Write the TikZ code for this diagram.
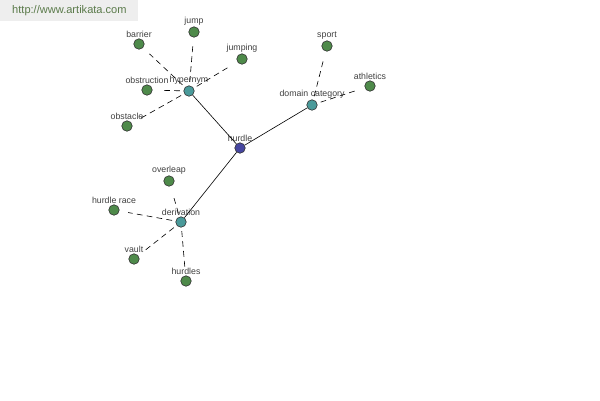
\documentclass[tikz,border=0pt]{standalone}
\usepackage{fontspec}
\setmainfont{Liberation Sans}
\usepackage{xcolor}
\usetikzlibrary{arrows.meta, positioning}

\definecolor{leafgreen}{HTML}{4E8A4A}
\definecolor{hubteal}{HTML}{4A9A9A}
\definecolor{rootblue}{HTML}{4646A0}
\definecolor{markgray}{HTML}{EEEEEE}
\definecolor{marktext}{HTML}{5A7A4A}

\begin{document}
\begin{tikzpicture}[
  x=0.02cm, y=-0.02cm,
  dot/.style={circle, draw=black!80, line width=0.35pt, inner sep=0pt,
    minimum size=0.21cm},
  leaf/.style={dot, fill=leafgreen},
  hub/.style={dot, fill=hubteal},
  root/.style={dot, fill=rootblue},
  lbl/.style={font=\fontsize{5}{6}\selectfont, text=black!75,
    inner sep=0.5pt},
  link/.style={line width=0.35pt, black},
  rel/.style={line width=0.35pt, black, dash pattern=on 3.3pt off 2.4pt,
    shorten <=2pt, shorten >=5pt}
]
\useasboundingbox (0,0) rectangle (600,400);

% watermark
\fill[markgray] (0,0) rectangle (138,21);
\node[font=\fontsize{6.3}{7}\selectfont, text=marktext, anchor=west] (mark) at (6,11) {http://www.artikata.com};

% centre and relation hubs
\node[root, label={[lbl]above:hurdle}] (hurdle) at (240,148) {};
\node[hub, label={[lbl]above:hypernym}] (hypernym) at (189,91) {};
\node[hub, label={[lbl]above:domain category}] (domain) at (312,105) {};
\node[hub, label={[lbl]above:derivation}] (derivation) at (181,222) {};

% hypernym words
\node[leaf, label={[lbl]above:barrier}] (barrier) at (139,44) {};
\node[leaf, label={[lbl]above:jump}] (jump) at (194,32) {};
\node[leaf, label={[lbl]above:jumping}] (jumping) at (242,59) {};
\node[leaf, label={[lbl]above:obstruction}] (obstruction) at (147,90) {};
\node[leaf, label={[lbl]above:obstacle}] (obstacle) at (127,126) {};

% domain category words
\node[leaf, label={[lbl]above:sport}] (sport) at (327,46) {};
\node[leaf, label={[lbl]above:athletics}] (athletics) at (370,86) {};

% derivation words
\node[leaf, label={[lbl]above:overleap}] (overleap) at (169,181) {};
\node[leaf, label={[lbl]above:hurdle race}] (hurdlerace) at (114,210) {};
\node[leaf, label={[lbl]above:vault}] (vault) at (134,259) {};
\node[leaf, label={[lbl]above:hurdles}] (hurdles) at (186,281) {};

\draw[link] (hurdle) -- (hypernym);
\draw[link] (hurdle) -- (domain);
\draw[link] (hurdle) -- (derivation);

\foreach \w in {barrier, jump, jumping, obstruction, obstacle}
  \draw[rel] (hypernym) -- (\w);
\foreach \w in {sport, athletics}
  \draw[rel] (domain) -- (\w);
\foreach \w in {overleap, hurdlerace, vault, hurdles}
  \draw[rel] (derivation) -- (\w);
\end{tikzpicture}
\end{document}
